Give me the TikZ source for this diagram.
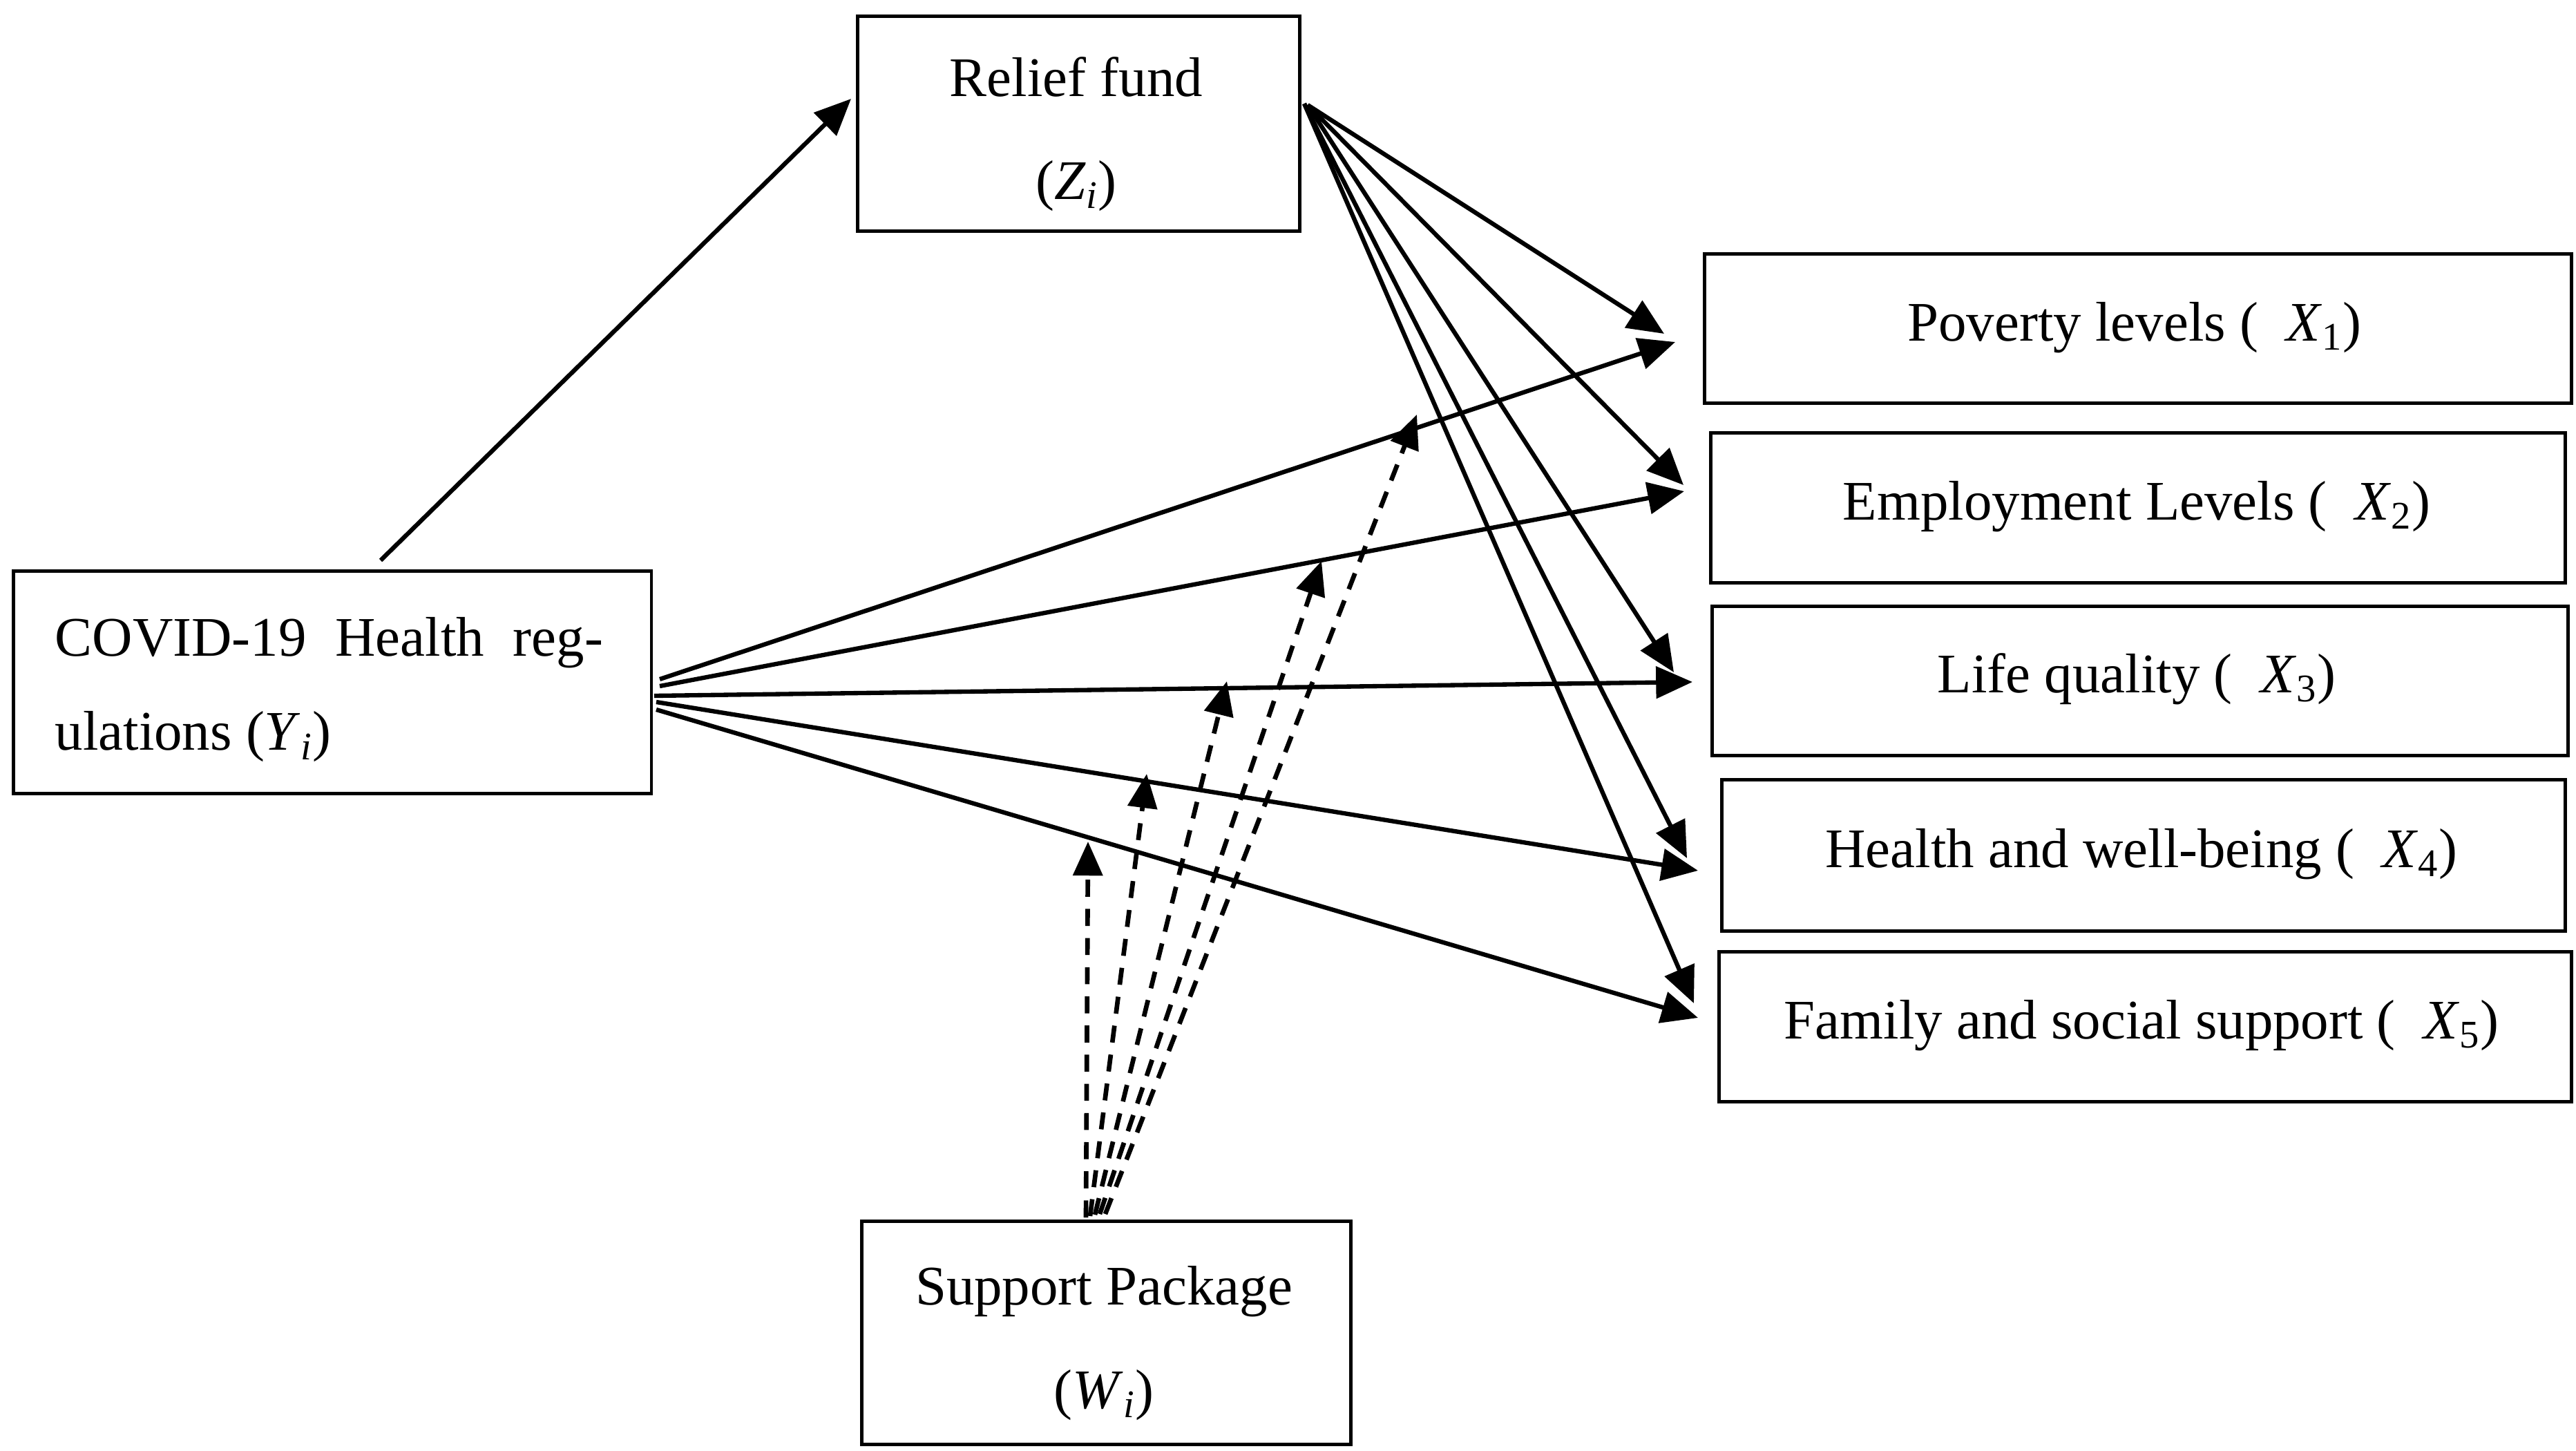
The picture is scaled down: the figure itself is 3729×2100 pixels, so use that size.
\documentclass[tikz,border=0pt]{standalone}
\usepackage{fontspec}
\setmainfont{Liberation Serif}
\usetikzlibrary{arrows.meta}
\newcommand{\vr}[2]{\textit{#1}\textsubscript{#2}}
\begin{document}
\begin{tikzpicture}[x=0.01cm,y=-0.01cm,
  box/.style={draw, line width=1.4pt, anchor=north west, inner sep=0pt},
  lbl/.style={font=\fontsize{23}{42.5}\selectfont, align=center, inner sep=0pt},
  arr/.style={line width=1.8pt, -{Triangle[length=15pt,width=13pt]}},
  darr/.style={line width=1.9pt, dash pattern=on 7pt off 5pt, -{Triangle[length=14pt,width=12pt]}}]
\useasboundingbox (0,0) rectangle (3729,2100);
% boxes
\node[box, minimum width=6.40cm, minimum height=3.11cm] (Z) at (1239,21) {};
\node[box, minimum width=9.23cm, minimum height=3.22cm] (Y) at (17,824) {};
\node[box, minimum width=7.08cm, minimum height=3.23cm] (W) at (1245,1765) {};
\node[box, minimum width=12.54cm, minimum height=2.16cm] (X1) at (2465,365) {};
\node[box, minimum width=12.36cm, minimum height=2.17cm] (X2) at (2474,624) {};
\node[box, minimum width=12.38cm, minimum height=2.16cm] (X3) at (2476,875) {};
\node[box, minimum width=12.20cm, minimum height=2.19cm] (X4) at (2490,1126) {};
\node[box, minimum width=12.33cm, minimum height=2.17cm] (X5) at (2486,1375) {};
% texts
\node[lbl] (Zt) at (1558,194) {Relief fund\\(\vr{Z}{\textit{i}})};
\node[lbl, font=\fontsize{23}{38.7}\selectfont, text width=7.93cm, align=justify, anchor=north west] (Yt) at (79,893) {COVID-19 Health reg-\linebreak ulations (\vr{Y}{\textit{i}})};
\node[lbl] (Wt) at (1598,1944) {Support Package\\(\vr{W}{\textit{i}})};
\node[lbl] (X1t) at (3090,474) {Poverty levels (\enspace\vr{X}{1})};
\node[lbl] (X2t) at (3093,733) {Employment Levels (\enspace\vr{X}{2})};
\node[lbl] (X3t) at (3093,983) {Life quality (\enspace\vr{X}{3})};
\node[lbl] (X4t) at (3100,1236) {Health and well-being (\enspace\vr{X}{4})};
\node[lbl] (X5t) at (3100,1484) {Family and social support (\enspace\vr{X}{5})};
% coordinates
\coordinate (ys) at (551,811);
\coordinate (zt) at (1232,143);
\coordinate (zf) at (1893,152);
\coordinate (zf2) at (1888,150);
\coordinate (a1) at (2409,483);
\coordinate (a2) at (2437,702);
\coordinate (a3) at (2423,973);
\coordinate (a4) at (2442,1242);
\coordinate (a5) at (2452,1452);
\coordinate (y1) at (955,983);
\coordinate (y2) at (955,993);
\coordinate (y3) at (947,1007);
\coordinate (y4) at (950,1016);
\coordinate (y5) at (950,1027);
\coordinate (b1) at (2425,495);
\coordinate (b2) at (2438,711);
\coordinate (b3) at (2450,987);
\coordinate (b4) at (2458,1260);
\coordinate (b5) at (2458,1473);
\coordinate (w1) at (1572,1762);
\coordinate (w2) at (1578,1760);
\coordinate (w3) at (1585,1758);
\coordinate (w4) at (1592,1757);
\coordinate (w5) at (1600,1757);
\coordinate (d1) at (1575,1218);
\coordinate (d2) at (1660,1120);
\coordinate (d3) at (1776,986);
\coordinate (d4) at (1913,812);
\coordinate (d5) at (2051,600);
% arrows
\draw[arr] (ys) -- (zt);
\draw[arr] (zf) -- (a1);
\draw[arr] (zf) -- (a2);
\draw[arr] (zf) -- (a3);
\draw[arr] (zf2) -- (a4);
\draw[arr] (zf2) -- (a5);
\draw[arr] (y1) -- (b1);
\draw[arr] (y2) -- (b2);
\draw[arr] (y3) -- (b3);
\draw[arr] (y4) -- (b4);
\draw[arr] (y5) -- (b5);
\draw[darr] (w1) -- (d1);
\draw[darr] (w2) -- (d2);
\draw[darr] (w3) -- (d3);
\draw[darr] (w4) -- (d4);
\draw[darr] (w5) -- (d5);
\end{tikzpicture}
\end{document}
